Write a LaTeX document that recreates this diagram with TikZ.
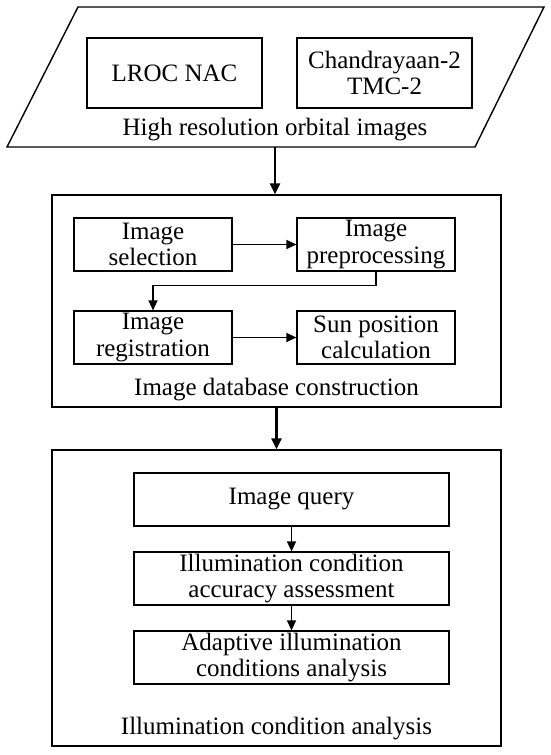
\documentclass[tikz,border=0pt]{standalone}
\usepackage{fontspec}
\setmainfont{Liberation Serif}
\usetikzlibrary{arrows.meta}
\begin{document}
\begin{tikzpicture}[x=1pt,y=-1pt,
  every node/.style={font=\fontsize{25}{26.5}\selectfont, align=center, inner sep=0pt},
  box/.style={draw, line width=1.2pt, minimum height=53pt, minimum width=158pt},
  outer/.style={draw, line width=1.4pt, minimum width=449pt},
  bigarr/.style={line width=2.6pt, -{Triangle[length=11pt,width=10pt]}},
  arr/.style={line width=1.3pt, -{Triangle[length=10pt,width=9pt]}},
  lbl/.style={}]
\useasboundingbox (0,0) rectangle (550,755);
% parallelogram
\coordinate (p1) at (78,7);
\coordinate (p2) at (544,7);
\coordinate (p3) at (475,147);
\coordinate (p4) at (7,147);
\coordinate (pb) at (275,147);
\draw[line width=1.4pt] (p1) -- (p2) -- (p3) -- (p4) -- cycle;
\node[box, minimum width=175pt, minimum height=70pt] (lroc) at (174.5,73) {LROC NAC};
\node[box, minimum width=175pt, minimum height=70pt] (chan) at (384.5,73) {Chandrayaan-2\\TMC-2};
\node[lbl] (hr) at (275,130) {High resolution orbital images};
% box 2
\node[outer, minimum height=212pt] (db) at (276.5,301) {};
\node[box] (sel) at (153,244.5) {Image\\selection};
\node[box] (pre) at (376,244.5) {Image\\preprocessing};
\node[box] (reg) at (153,337.5) {Image\\registration};
\node[box] (sun) at (376,337.5) {Sun position\\calculation};
\node[lbl] (dbl) at (276.5,390) {Image database construction};
% box 3
\node[outer, minimum height=296pt] (ica) at (276.5,598) {};
\node[box, minimum width=315pt] (q) at (291.5,499.5) {Image query};
\node[box, minimum width=315pt] (acc) at (291.5,578.5) {Illumination condition\\accuracy assessment};
\node[box, minimum width=315pt] (ad) at (291.5,657.5) {Adaptive illumination\\conditions analysis};
\node[lbl] (ical) at (276.5,729) {Illumination condition analysis};
% arrows
\draw[bigarr] (pb) -- (pb |- db.north);
\draw[bigarr] (db.south) -- (ica.north);
\draw[arr] (sel) -- (pre);
\draw[arr] (reg) -- (sun);
\draw[arr] (pre.south) -- ++(0,14) -| (reg.north);
\draw[arr] (q) -- (acc);
\draw[arr] (acc) -- (ad);
\end{tikzpicture}
\end{document}
